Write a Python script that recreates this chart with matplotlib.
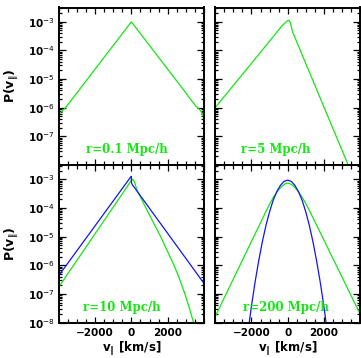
import numpy as np
import matplotlib
matplotlib.use("Agg")
import matplotlib.pyplot as plt
from matplotlib.ticker import LogLocator, MultipleLocator, FixedLocator, FixedFormatter

# ----------------------------
# DATA (log10 P)
# ----------------------------
# r = 0.1 Mpc/h
v_r01_green = [-4000, -3950, -3880, -3800, -3700, -3600, 0, 3000, 3300, 3450, 3550, 3650, 3750, 3850, 3920, 4000]
logp_r01_green = [-6.30, -6.20, -6.16, -6.10, -6.05, -5.98, -3.00, -5.48, -5.74, -5.86, -5.95, -5.99, -6.06, -6.14, -6.22, -6.38]

# r = 5 Mpc/h
v_r5_green = [-4000, -2000, -300, -200, -100, 0, 62, 120, 172, 264, 410, 3400]
logp_r5_green = [-5.99, -4.45, -3.13, -3.07, -3.01, -2.96, -2.95, -2.99, -3.09, -3.33, -3.56, -8.08]

# r = 10 Mpc/h
v_r10_blue = [-4000, -50, 0, 8, 60, 150, 4000]
logp_r10_blue = [-6.36, -2.93, -2.90, -3.12, -3.20, -3.27, -6.63]
v_r10_green = [-4000, -300, -150, -50, 0, 70, 130, 200, 300, 800, 1600, 2350, 2650, 2950, 3200, 3400, 3450]
logp_r10_green = [-6.76, -3.32, -3.17, -3.08, -3.04, -3.00, -3.04, -3.14, -3.36, -4.00, -4.98, -6.00, -6.47, -7.00, -7.50, -7.95, -8.08]

# r = 200 Mpc/h
v_r200_blue = [-2200, -2000, -1800, -1600, -1400, -1200, -1000, -800, -600, -400, -200, 0,
               200, 400, 600, 800, 1000, 1200, 1400, 1600, 1800, 2000, 2200]
logp_r200_blue = [-8.34, -7.42, -6.58, -5.84, -5.18, -4.61, -4.13, -3.73, -3.43, -3.21, -3.07, -3.03,
                  -3.07, -3.21, -3.43, -3.73, -4.13, -4.61, -5.18, -5.84, -6.58, -7.42, -8.34]
v_r200_green = [-4000, -1200, -1050, -900, -750, -600, -450, -300, -150, 0,
                150, 300, 450, 600, 750, 900, 1050, 1200, 4000]
logp_r200_green = [-7.78, -4.12, -3.93, -3.75, -3.59, -3.45, -3.33, -3.23, -3.16, -3.13,
                   -3.16, -3.22, -3.32, -3.44, -3.58, -3.73, -3.90, -4.08, -7.69]

panel_labels = ["r=0.1 Mpc/h", "r=5 Mpc/h", "r=10 Mpc/h", "r=200 Mpc/h"]
label_xpos = [0.19, 0.175, 0.17, 0.19]
ytick_vals = [1e-3, 1e-4, 1e-5, 1e-6, 1e-7, 1e-8]
ytick_text = ["10$^{-3}$", "10$^{-4}$", "10$^{-5}$", "10$^{-6}$", "10$^{-7}$", "10$^{-8}$"]
xtick_vals = [-2000, 0, 2000]
xtick_text = ["\u22122000", "0", "2000"]

GREEN = "#14e614"
BLUE = "#1414f0"

# ----------------------------
# FIGURE
# ----------------------------
W, H = 361, 358
fig = plt.figure(figsize=(W / 100, H / 100), dpi=100)

def box(x0, y0, x1, y1):
    return [x0 / W, 1 - y1 / H, (x1 - x0) / W, (y1 - y0) / H]

axes = [
    fig.add_axes(box(58.7, 7.5, 204.0, 165.0)),
    fig.add_axes(box(215.3, 7.5, 360.0, 165.0)),
    fig.add_axes(box(58.7, 165.0, 204.0, 322.7)),
    fig.add_axes(box(215.3, 165.0, 360.0, 322.7)),
]

curves = [
    [(v_r01_green, logp_r01_green, GREEN)],
    [(v_r5_green, logp_r5_green, GREEN)],
    [(v_r10_green, logp_r10_green, GREEN), (v_r10_blue, logp_r10_blue, BLUE)],
    [(v_r200_green, logp_r200_green, GREEN), (v_r200_blue, logp_r200_blue, BLUE)],
]

tickfont = dict(family="DejaVu Sans", weight="bold", size=7.5)

for i, ax in enumerate(axes):
    for v, lp, col in curves[i]:
        ax.plot(v, 10.0 ** np.array(lp), color=col, lw=0.9)

    ax.set_yscale("log")
    ax.set_xlim(-4000, 4000)
    ax.set_ylim(1e-8, 10 ** -2.5)

    for s in ax.spines.values():
        s.set_linewidth(1.4)

    ax.yaxis.set_major_locator(FixedLocator(ytick_vals))
    ax.yaxis.set_minor_locator(LogLocator(base=10, subs=np.arange(2, 10), numticks=20))
    ax.xaxis.set_major_locator(FixedLocator(xtick_vals))
    ax.xaxis.set_minor_locator(MultipleLocator(500))

    ax.tick_params(which="both", direction="in", top=True, right=True, width=0.9)
    ax.tick_params(which="major", axis="y", length=5)
    ax.tick_params(which="minor", axis="y", length=2.5)
    ax.tick_params(which="major", axis="x", length=4)
    ax.tick_params(which="minor", axis="x", length=3)

    # y labels only on the left column, x labels only on the bottom row
    if i in (0, 2):
        shown = ytick_text[:5] + [""] if i == 0 else ytick_text
        ax.yaxis.set_major_formatter(FixedFormatter(shown))
        for t in ax.get_yticklabels():
            t.set_fontproperties(matplotlib.font_manager.FontProperties(**tickfont))
        ax.tick_params(axis="y", pad=3)
    else:
        ax.set_yticklabels([])
    if i in (2, 3):
        ax.xaxis.set_major_formatter(FixedFormatter(xtick_text))
        for t in ax.get_xticklabels():
            t.set_fontproperties(matplotlib.font_manager.FontProperties(**tickfont))
        ax.tick_params(axis="x", pad=4)
        ax.set_xlabel(r"v$_\Vert$ [km/s]", fontsize=8.5, fontweight="bold", labelpad=1)
    else:
        ax.set_xticklabels([])

    ax.text(label_xpos[i], 0.075, panel_labels[i], transform=ax.transAxes,
            color=GREEN, fontsize=8.5, fontweight="bold", family="DejaVu Serif")

fig.text(12 / W, 1 - 86 / H, r"P(v$_\Vert$)", rotation=90, ha="center", va="center",
         fontsize=9, fontweight="bold")
fig.text(12 / W, 1 - 244 / H, r"P(v$_\Vert$)", rotation=90, ha="center", va="center",
         fontsize=9, fontweight="bold")

fig.savefig("out.png", dpi=100)
